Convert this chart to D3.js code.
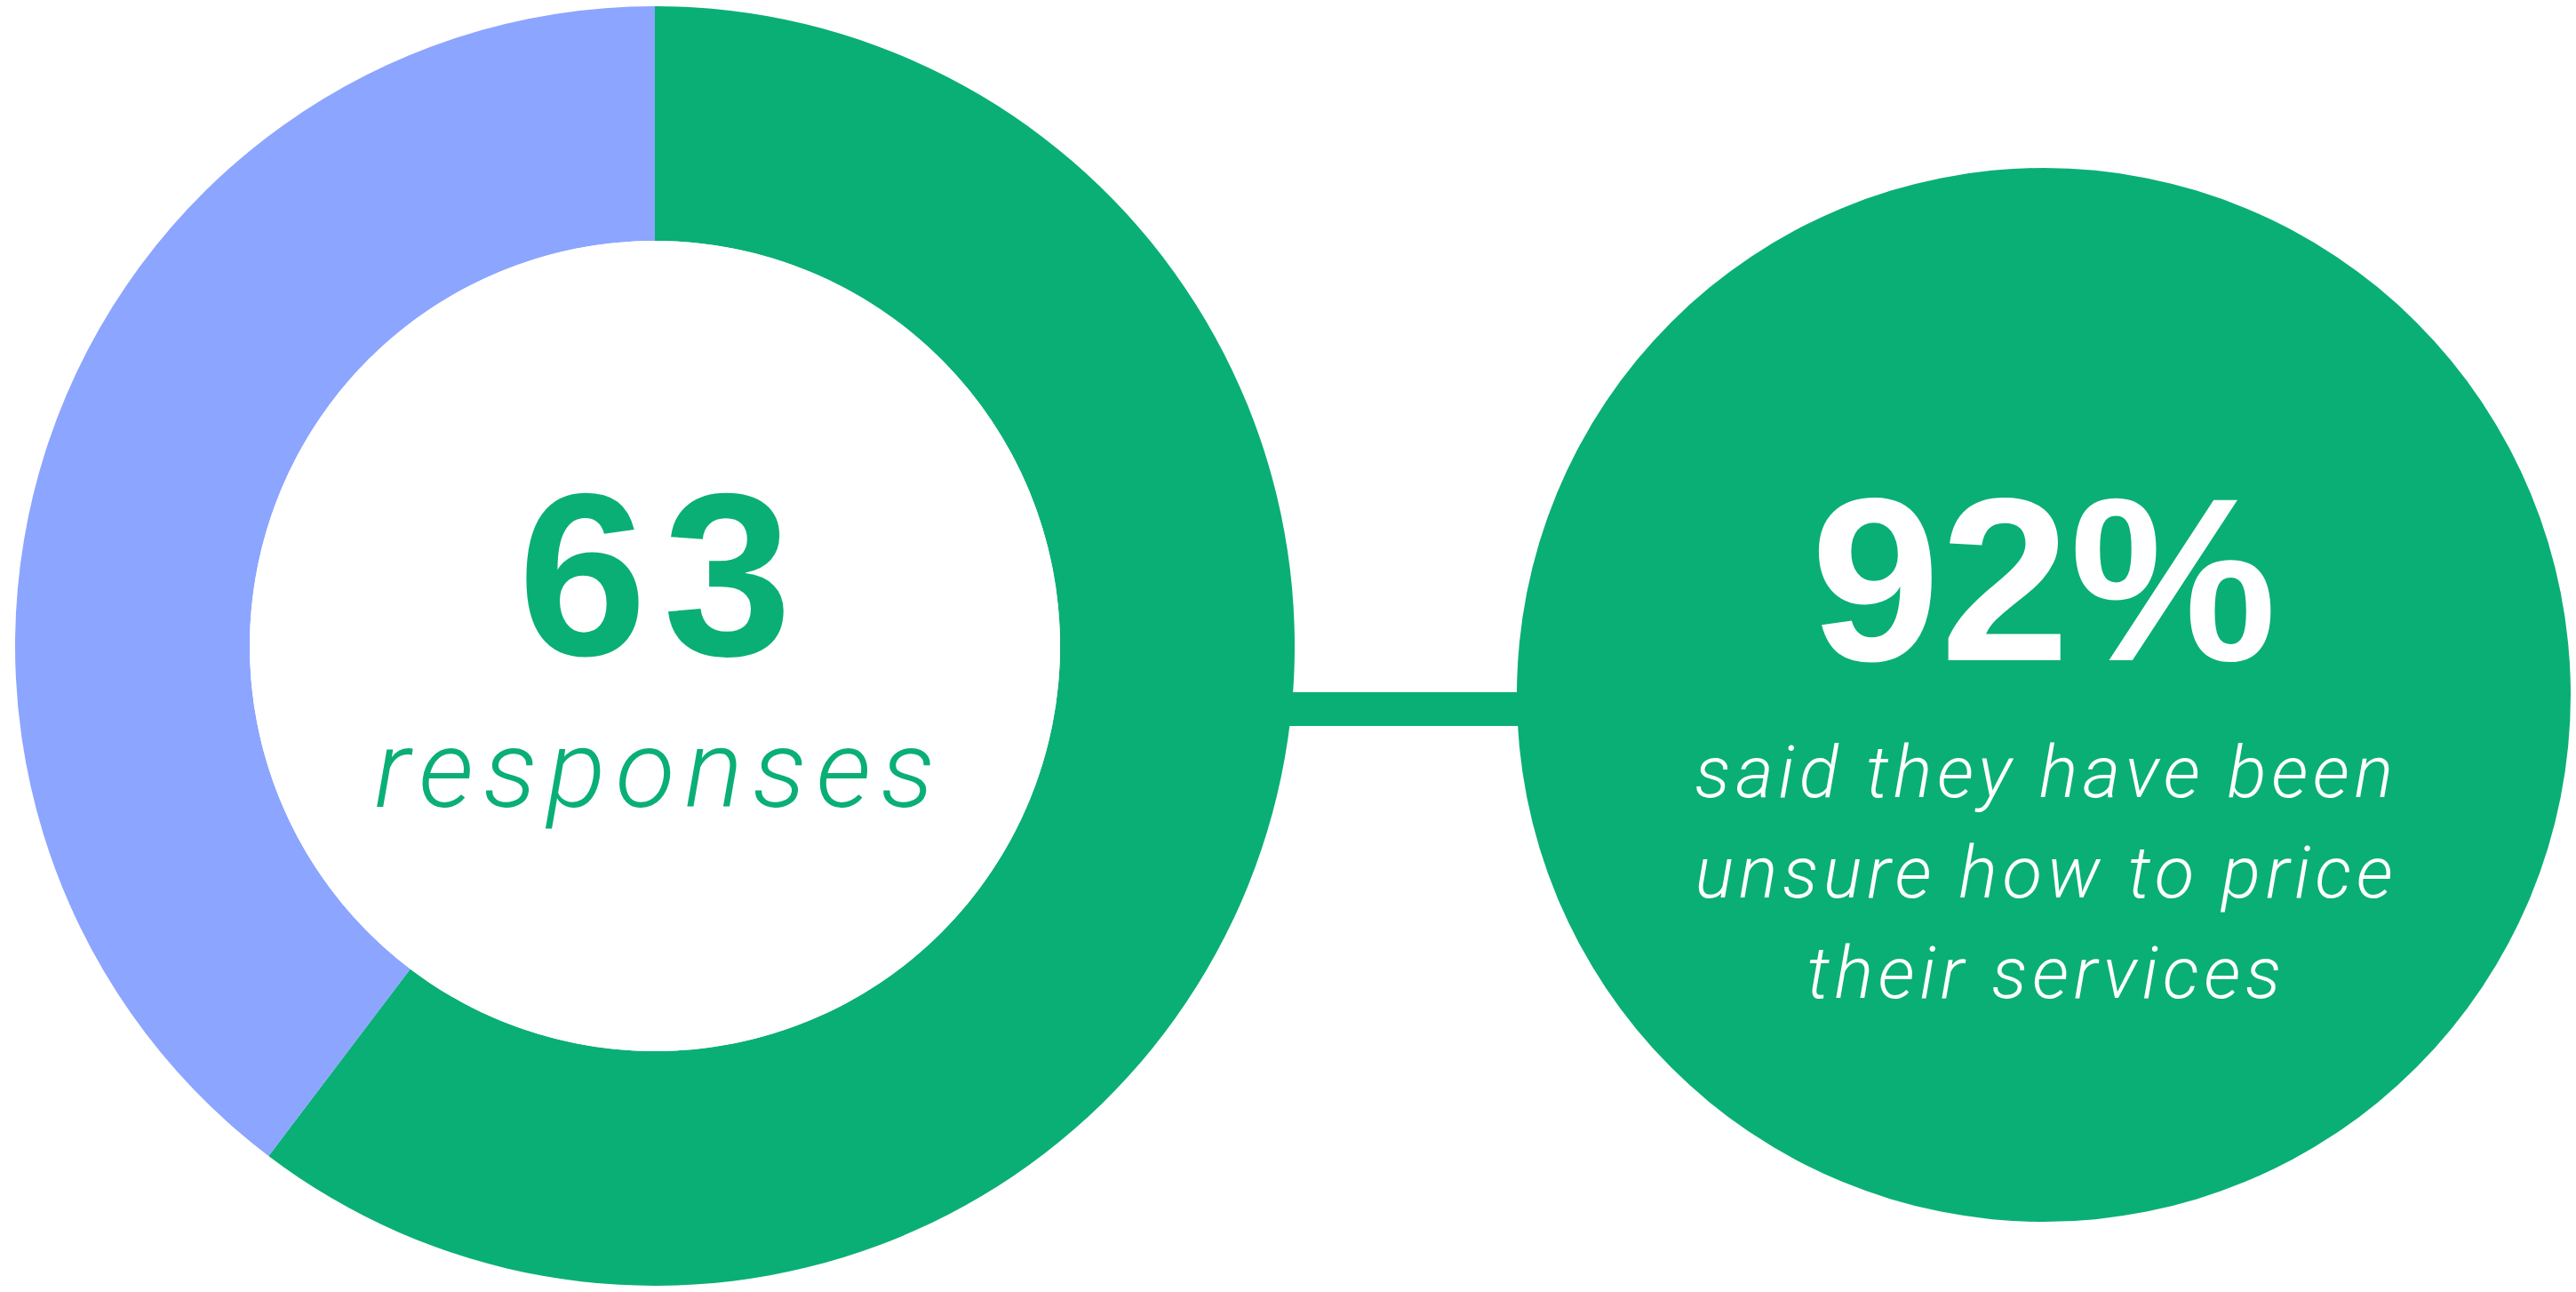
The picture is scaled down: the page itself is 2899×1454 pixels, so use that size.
<!DOCTYPE html>
<html>
<head>
<meta charset="utf-8">
<script src="https://cdn.jsdelivr.net/npm/d3@7/dist/d3.min.js"></script>
<style>
  body { margin: 0; background: #fff; }
  svg { display: block; }
</style>
</head>
<body>
<div id="chart"></div>
<script>
var width = 2899
var height = 1454

// responses split: green = unsure how to price, blue = the rest
var categories = ["unsure", "other"]
var counts = [38, 25]
var colors = ["#0AAF76", "#8CA5FF"]
var totalLabel = "63"
var totalSub = "responses"
var statValue = "92%"
var statLines = ["said they have been", "unsure how to price", "their services"]

var donut = {cx: 737, cy: 727, outer: 720, inner: 456}
var bubble = {cx: 2300, cy: 782, r: 593}

var svg = d3.select("#chart").append("svg")
  .attr("width", width)
  .attr("height", height)

// connector bar between the two shapes
svg.append("rect")
  .attr("x", donut.cx + 600)
  .attr("y", 779)
  .attr("width", bubble.cx - donut.cx - 600)
  .attr("height", 38)
  .style("fill", colors[0])

var pie = d3.pie().sort(null).value(function(d){ return d.value })
var arc = d3.arc().innerRadius(donut.inner).outerRadius(donut.outer)

var slices = categories.map(function(c, i){ return {key: c, value: counts[i]} })

var g = svg.append("g")
  .attr("transform", "translate(" + donut.cx + "," + donut.cy + ")")

g.selectAll("path")
  .data(pie(slices))
  .enter()
  .append("path")
  .attr("d", arc)
  .style("fill", function(d, i){ return colors[i] })

g.append("circle")
  .attr("r", donut.inner)
  .style("fill", "#fff")

// letter-spacing pads the end of the text too, so nudge right by half of it
g.append("text")
  .attr("text-anchor", "middle")
  .attr("x", 9)
  .attr("y", 10)
  .style("font-family", "'Liberation Sans', Arial, sans-serif")
  .style("font-weight", 700)
  .style("font-size", "261px")
  .style("letter-spacing", "18px")
  .style("fill", colors[0])
  .text(totalLabel)

g.append("text")
  .attr("text-anchor", "middle")
  .attr("x", 5)
  .attr("y", 181)
  .style("font-family", "Roboto, sans-serif")
  .style("font-weight", 300)
  .style("font-style", "italic")
  .style("font-size", "123px")
  .style("letter-spacing", "11px")
  .style("fill", colors[0])
  .text(totalSub)

var b = svg.append("g")
  .attr("transform", "translate(" + bubble.cx + "," + bubble.cy + ")")

b.append("circle")
  .attr("r", bubble.r)
  .style("fill", colors[0])

b.append("text")
  .attr("text-anchor", "middle")
  .attr("y", -39)
  .style("font-family", "'Liberation Sans', Arial, sans-serif")
  .style("font-weight", 700)
  .style("font-size", "262px")
  .style("fill", "#fff")
  .text(statValue)

b.selectAll(".line")
  .data(statLines)
  .enter()
  .append("text")
  .attr("class", "line")
  .attr("text-anchor", "middle")
  .attr("x", 3)
  .attr("y", function(d, i){ return 115 + i * 113 })
  .style("font-family", "Roboto, sans-serif")
  .style("font-weight", 300)
  .style("font-style", "italic")
  .style("font-size", "82px")
  .style("letter-spacing", "5.5px")
  .style("fill", "#fff")
  .text(function(d){ return d })
</script>
</body>
</html>
